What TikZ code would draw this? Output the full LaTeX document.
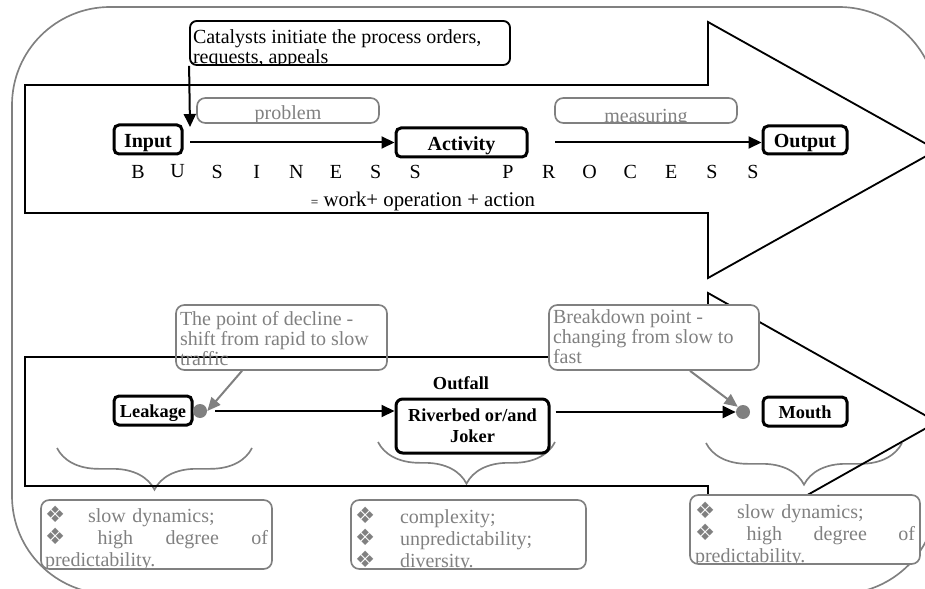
\documentclass[tikz,border=0pt]{standalone}
\usepackage{fontspec}
\setmainfont{Liberation Serif}
\newfontfamily\dingfont{DejaVu Sans}
\usetikzlibrary{positioning,arrows.meta,decorations.pathreplacing}
\newcommand{\dingbul}{\smash{\fontsize{13.5pt}{13.5pt}\dingfont ❖}}

\begin{document}
\begin{tikzpicture}[
                x=0.6pt, y=-0.6pt,
                font=\fontsize{12pt}{12pt}\selectfont,
                lbl/.style={draw, line width=1.8pt, rounded corners=3pt, inner sep=0pt, text height=9.5pt, text depth=0pt, font=\fontsize{12pt}{12pt}\selectfont\bfseries},
                lbls/.style={lbl, text height=8.7pt, font=\fontsize{11pt}{12.6pt}\selectfont\bfseries},
                note/.style={draw=gray, line width=1pt, rounded corners=5pt, inner sep=0pt},  % grey text boxes
                intext/.style 2 args={path picture={\node[anchor=north west, inner sep=0pt, outer sep=0pt, minimum size=0pt, #1] at (path picture bounding box.north west) {#2};}},  % text cut off by its box
                flow/.style={line width=1.2pt, -{Triangle[length=7.8pt, width=7.2pt]}},
                hint/.style={draw=gray, line width=1.2pt, -{Triangle[length=8pt, width=7pt]}},
                dot/.style={circle, fill=gray, inner sep=0pt, minimum size=8.4pt},
                bigarrow/.style={line width=1.1pt},
                curly/.style={draw=gray, line width=1pt, decorate, decoration={brace, amplitude=25pt}}
            ]
            \useasboundingbox (0,0) rectangle (925,589);

            % Outer frame with rounded corners
            \draw[gray, line width=1pt, rounded corners=58.8pt] (12,7) rectangle (937,594);

            % Braces under the lower row
            \draw[curly] (252,448) -- (57,448);
            \draw[curly] (555,442) -- (378,442);
            \draw[curly] (902,443) -- (706,443);

            % The two big block arrows
            \draw[bigarrow] (25,85) -- (708,85) -- (708,22) -- (937,150) -- (708,278) -- (708,213) -- (25,213) -- cycle;
            \draw[bigarrow] (25,357) -- (708,357) -- (708,293) -- (937,422) -- (708,551) -- (708,486) -- (25,486) -- cycle;

            % Upper row: business process
            \node[draw, line width=1.1pt, rounded corners=4pt, minimum width=192pt, minimum height=26.4pt, inner sep=0pt,
                  intext={xshift=1.8pt, yshift=-5.2pt, text width=188pt, align=flush left, font=\fontsize{12pt}{12pt}\selectfont}{Catalysts initiate the process orders,\\requests, appeals}] (cat) at (350,43) {};
            \node[note, minimum width=109.2pt, minimum height=15pt,
                  intext={text width=109.2pt, align=center, yshift=-5pt, text=gray, text height=8.2pt}{problem}] (problem) at (288,110.5) {};
            \node[note, minimum width=109.2pt, minimum height=15pt,
                  intext={text width=109.2pt, align=center, yshift=-6.3pt, text=gray, text height=8.2pt}{measuring}] (measuring) at (646,110.5) {};

            \node[lbl, minimum width=40.8pt, minimum height=17.4pt] (input) at (148,139.5) {Input};
            \node[lbl, minimum width=78.6pt, minimum height=17.4pt] (activity) at (461.5,142.5) {Activity};
            \node[lbl, minimum width=50.4pt, minimum height=16.8pt] (output) at (805,140) {Output};

            \coordinate (inhook) at (190,127);
            \draw[flow] (cat.south west) -- (inhook);
            \draw[flow, shorten <=4pt] (input.east |- activity.west) -- (activity.west);
            \draw[flow, shorten <=16pt] (activity.east) -- (activity.east -| output.west);

            % Spaced out title letters
            \foreach \ch [count=\i] in {B,U,S,I,N,E,S,S}
                \node (biz\i) at ({138+39.6*(\i-1)},171.5) {\ch};
            \foreach \ch [count=\i] in {P,R,O,C,E,S,S}
                \node (proc\i) at ({508+40.8*(\i-1)},171.5) {\ch};
            \node[anchor=base, font=\fontsize{12.5pt}{12.5pt}\selectfont] (sum) at (423,207) {{\footnotesize =} work+ operation + action};

            % Lower row: leakage, outfall, mouth
            \node[note, minimum width=126.6pt, minimum height=39pt,
                  intext={xshift=2.4pt, yshift=-3.8pt, text width=124pt, align=flush left, text=gray, font=\fontsize{12pt}{10.8pt}\selectfont}{The point of decline -\\shift from rapid to slow\\traffic}] (decline) at (281.5,337.5) {};
            \node[note, fill=white, minimum width=126pt, minimum height=39pt,
                  intext={xshift=2.4pt, yshift=-2.6pt, text width=123pt, align=flush left, text=gray, font=\fontsize{12pt}{10.8pt}\selectfont}{Breakdown point -\\changing from slow to\\fast}] (breakdown) at (654,337.5) {};

            \node[lbls, minimum width=46.8pt, minimum height=17.4pt] (leak) at (153,410.5) {Leakage};
            \node[draw, line width=1.8pt, rounded corners=4pt, minimum width=91.8pt, minimum height=32.4pt, inner sep=0pt, align=center,
                  font=\fontsize{11pt}{12.6pt}\selectfont\bfseries] (river) at (472.5,426) {Riverbed or/and\\Joker};
            \node[above=4.8pt of river, xshift=-6.9pt, inner sep=0pt, text depth=0pt, font=\fontsize{11pt}{12pt}\selectfont\bfseries] (outfall) {Outfall};
            \node[lbls, minimum width=50.4pt, minimum height=17.4pt] (mouth) at (805,411.5) {Mouth};

            \node[dot] (drop) at (200,411) {};
            \node[dot] (rise) at (743,412) {};

            \draw[flow, shorten <=9pt] (drop.center) -- (drop.center -| river.west);
            \draw[flow, shorten <=3pt] (river.east |- rise.west) -- (rise.west);
            \draw[hint] ([xshift=-23.7pt]decline.south) -- (drop.east);
            \draw[hint] ([xshift=21.6pt]breakdown.south) -- (rise.north west);

            % Boxes with the features of each stage
            \node[note, minimum width=138.6pt, minimum height=41.4pt,
                  intext={xshift=2.4pt, yshift=-5pt, text width=133.8pt, text=gray, font=\fontsize{12pt}{13.4pt}\selectfont}{\makebox[25.8pt][l]{\dingbul}slow dynamics;\endgraf\hbox to\hsize{\dingbul\hfill high\hfill degree\hfill of}\endgraf predictability.}] (slowA) at (156.5,534.5) {};
            \node[note, minimum width=141pt, minimum height=41.4pt,
                  intext={xshift=2.4pt, yshift=-5.5pt, text width=136pt, text=gray, font=\fontsize{12pt}{13.4pt}\selectfont}{\makebox[27pt][l]{\dingbul}complexity;\endgraf\makebox[27pt][l]{\dingbul}unpredictability;\endgraf\makebox[27pt][l]{\dingbul}diversity.}] (wild) at (468.5,534.5) {};
            \node[note, fill=white, minimum width=138pt, minimum height=41.4pt,
                  intext={xshift=3pt, yshift=-5.6pt, text width=132pt, text=gray, font=\fontsize{12pt}{13.4pt}\selectfont}{\makebox[25.2pt][l]{\dingbul}slow dynamics;\endgraf\hbox to\hsize{\dingbul\hfill high\hfill degree\hfill of}\endgraf predictability.}] (slowB) at (805,529.5) {};

        \end{tikzpicture}
\end{document}
